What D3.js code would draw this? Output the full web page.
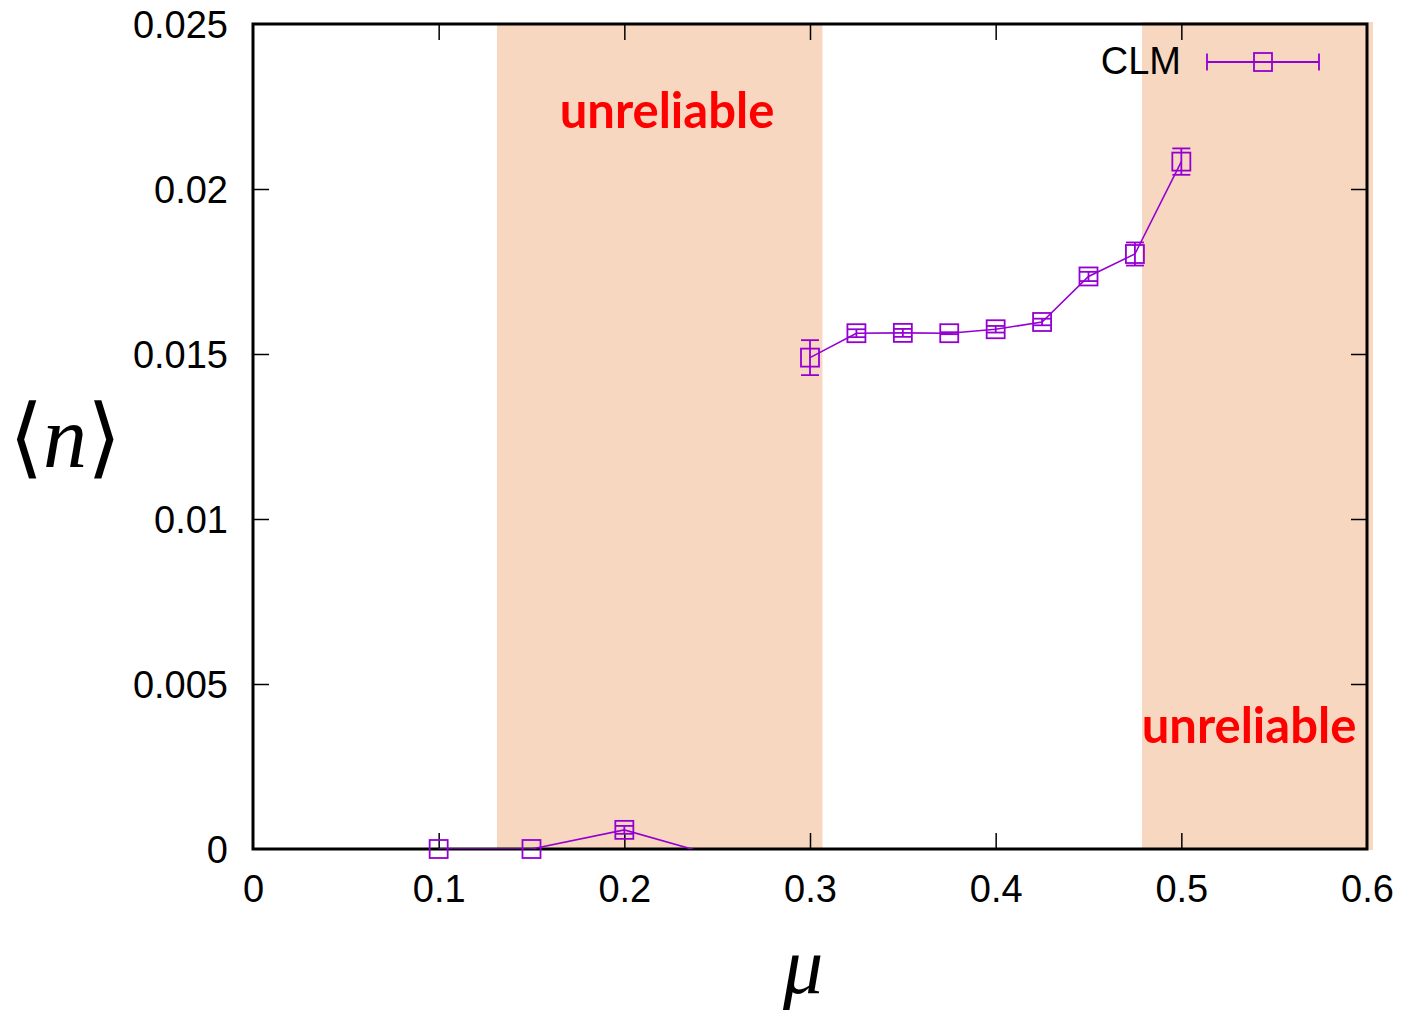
<!DOCTYPE html>
<html><head><meta charset="utf-8">
<script src="https://cdn.jsdelivr.net/npm/d3@7"></script>
<style>
body{margin:0;background:#fff;}
svg{display:block;}
</style></head>
<body>
<svg id="chart" width="1407" height="1017"></svg>
<script>
// ---- data ----
const mu =      [0.1, 0.15, 0.2,     0.25,     0.3,     0.325,   0.35,    0.375,   0.4,     0.425,   0.45,    0.475,   0.5];
const nMean =   [0.0, 0.0,  0.00058, -0.00022, 0.01489, 0.01563, 0.01564, 0.01563, 0.01575, 0.01597, 0.01735, 0.01803, 0.02083];
const nErr =    [0.0, 0.0,  0.00012, 0.0001,   0.00053, 0.00012, 0.00012, 0.00003, 0.0001,  0.0001,  0.00014, 0.00035, 0.0004];
const segment = [0,   0,    0,       0,        1,       1,       1,       1,       1,       1,       1,       1,       1];
const xTicks = [0, 0.1, 0.2, 0.3, 0.4, 0.5, 0.6];
const xTickLabels = ["0", "0.1", "0.2", "0.3", "0.4", "0.5", "0.6"];
const yTicks = [0, 0.005, 0.01, 0.015, 0.02, 0.025];
const yTickLabels = ["0", "0.005", "0.01", "0.015", "0.02", "0.025"];
const shadeRegions = [[0.1314, 0.3067], [0.4788, 0.6032]];
const shadeLabels = ["unreliable", "unreliable"];
const seriesName = "CLM";

// ---- layout ----
const L = 253, R = 1367, T = 24, B = 849;
const x = d3.scaleLinear().domain([0, 0.6]).range([L, R]);
const y = d3.scaleLinear().domain([0, 0.025]).range([B, T]);
const purple = "#9400d3";
const shade = "#f8d7c0";

const svg = d3.select("#chart");

// shaded regions
svg.append("rect").attr("x", x(shadeRegions[0][0])).attr("y", T + 1)
  .attr("width", x(shadeRegions[0][1]) - x(shadeRegions[0][0])).attr("height", B - T)
  .attr("fill", shade);
svg.append("rect").attr("x", x(shadeRegions[1][0])).attr("y", T - 2)
  .attr("width", x(shadeRegions[1][1]) - x(shadeRegions[1][0])).attr("height", B - T + 3)
  .attr("fill", shade);

// shade labels
const labFont = "Lato, 'Open Sans', sans-serif";
svg.append("text").attr("x", 667).attr("y", 128).attr("text-anchor", "middle")
  .attr("font-family", labFont).attr("font-weight", "bold").attr("font-size", 49)
  .attr("fill", "#ff0000").text(shadeLabels[0]);
svg.append("text").attr("x", 1249).attr("y", 743).attr("text-anchor", "middle")
  .attr("font-family", labFont).attr("font-weight", "bold").attr("font-size", 49)
  .attr("fill", "#ff0000").text(shadeLabels[1]);

// axes (ticks inside, mirrored)
const tickLen = 16;
const tickFont = "'Liberation Sans', Arial, sans-serif";
const gx = svg.append("g").attr("transform", `translate(0,${B})`)
  .call(d3.axisBottom(x).tickValues(xTicks).tickSizeInner(-tickLen).tickSizeOuter(0)
    .tickFormat((d, i) => xTickLabels[i]));
const gxt = svg.append("g").attr("transform", `translate(0,${T})`)
  .call(d3.axisTop(x).tickValues(xTicks).tickSizeInner(-tickLen).tickSizeOuter(0).tickFormat(""));
const gy = svg.append("g").attr("transform", `translate(${L},0)`)
  .call(d3.axisLeft(y).tickValues(yTicks).tickSizeInner(-tickLen).tickSizeOuter(0)
    .tickFormat((d, i) => yTickLabels[i]));
const gyr = svg.append("g").attr("transform", `translate(${R},0)`)
  .call(d3.axisRight(y).tickValues(yTicks).tickSizeInner(-tickLen).tickSizeOuter(0).tickFormat(""));
[gx, gxt, gy, gyr].forEach(g => {
  g.select(".domain").remove();
  g.selectAll(".tick line").attr("stroke", "#000").attr("stroke-width", 1.5);
  g.selectAll(".tick text").attr("font-family", tickFont).attr("font-size", 38).attr("fill", "#000");
});
gx.selectAll(".tick text").attr("dy", 0).attr("y", 53);
gy.selectAll(".tick text").attr("dy", 13).attr("x", -25);
gx.selectAll(".tick").filter(d => d === 0 || d === 0.6).select("line").remove();
gxt.selectAll(".tick").filter(d => d === 0 || d === 0.6).select("line").remove();
gy.selectAll(".tick").filter(d => d === 0 || d === 0.025).select("line").remove();
gyr.selectAll(".tick").filter(d => d === 0 || d === 0.025).select("line").remove();

// frame
svg.append("rect").attr("x", L).attr("y", T).attr("width", R - L).attr("height", B - T)
  .attr("fill", "none").attr("stroke", "#000").attr("stroke-width", 3);

// data
const data = mu.map((m, i) => ({ m, v: nMean[i], e: nErr[i], s: segment[i] }));
svg.append("clipPath").attr("id", "plotclip").append("rect")
  .attr("x", L).attr("y", T).attr("width", R - L).attr("height", B - T);
const line = d3.line().x(d => x(d.m)).y(d => y(d.v));
d3.groups(data, d => d.s).forEach(([, seg]) => {
  svg.append("path").datum(seg).attr("clip-path", "url(#plotclip)")
    .attr("d", line).attr("fill", "none").attr("stroke", purple).attr("stroke-width", 1.6);
});

const inRange = data.filter(d => d.v >= 0 && d.v <= 0.025);
const sq = 18, cap = 9;
const pts = svg.append("g").attr("stroke", purple).attr("fill", "none").attr("stroke-width", 1.8);
inRange.forEach(d => {
  const cx = x(d.m), cy = y(d.v);
  if (d.e > 0) {
    const y1 = y(d.v - d.e), y2 = y(d.v + d.e);
    pts.append("line").attr("x1", cx).attr("x2", cx).attr("y1", y1).attr("y2", y2);
    pts.append("line").attr("x1", cx - cap).attr("x2", cx + cap).attr("y1", y1).attr("y2", y1);
    pts.append("line").attr("x1", cx - cap).attr("x2", cx + cap).attr("y1", y2).attr("y2", y2);
  }
  pts.append("rect").attr("x", cx - sq / 2).attr("y", cy - sq / 2).attr("width", sq).attr("height", sq);
});

// legend
svg.append("text").attr("x", 1181).attr("y", 74).attr("text-anchor", "end")
  .attr("font-family", tickFont).attr("font-size", 38).attr("fill", "#000").text(seriesName);
const lg = svg.append("g").attr("stroke", purple).attr("fill", "none").attr("stroke-width", 1.8);
lg.append("line").attr("x1", 1207).attr("x2", 1319).attr("y1", 62).attr("y2", 62);
lg.append("line").attr("x1", 1207).attr("x2", 1207).attr("y1", 53.5).attr("y2", 70.5);
lg.append("line").attr("x1", 1319).attr("x2", 1319).attr("y1", 53.5).attr("y2", 70.5);
lg.append("rect").attr("x", 1263 - sq / 2).attr("y", 62 - sq / 2).attr("width", sq).attr("height", sq);

// axis titles
const yl = svg.append("text").attr("x", 65).attr("y", 467).attr("text-anchor", "middle")
  .attr("font-size", 88).attr("fill", "#000");
yl.append("tspan").attr("font-family", "'DejaVu Sans', sans-serif").attr("font-weight", "300").text("\u27E8");
yl.append("tspan").attr("font-family", "'Liberation Serif', 'DejaVu Serif', serif").attr("font-style", "italic").text("n");
yl.append("tspan").attr("font-family", "'DejaVu Sans', sans-serif").attr("font-weight", "300").text("\u27E9");
svg.append("text").attr("x", 803).attr("y", 993).attr("text-anchor", "middle")
  .attr("font-family", "'Liberation Serif', 'DejaVu Serif', serif").attr("font-style", "italic")
  .attr("font-size", 80).attr("fill", "#000").text("\u03BC");
</script>
</body></html>
